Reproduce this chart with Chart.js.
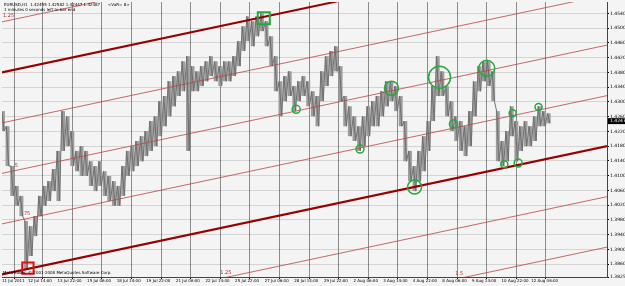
<!DOCTYPE html>
<html>
<head>
<meta charset="utf-8">
<script src="https://cdn.jsdelivr.net/npm/chart.js@4/dist/chart.umd.min.js"></script>
<style>
  html, body { margin: 0; padding: 0; background: #f4f4f4; }
  canvas { display: block; }
</style>
</head>
<body>
<canvas id="chart" width="625" height="286"></canvas>
<script>
// EURUSD H1, x = bar number (1 bar = 1 hour)
const timeTicks = [4, 32, 64, 96, 128, 160, 192, 224, 256, 288, 320, 352, 384, 416, 448, 480, 512, 544, 576];
const timeLabels = ['11 Jul 2011', '12 Jul 14:00', '13 Jul 22:00', '15 Jul 06:00', '18 Jul 14:00', '19 Jul 22:00',
  '21 Jul 06:00', '22 Jul 14:00', '25 Jul 22:00', '27 Jul 06:00', '28 Jul 14:00', '29 Jul 22:00', '2 Aug 06:00',
  '3 Aug 14:00', '4 Aug 22:00', '8 Aug 06:00', '9 Aug 14:00', '10 Aug 22:00', '12 Aug 06:00'];
const priceTicks = [1.3825, 1.386, 1.390, 1.394, 1.398, 1.402, 1.406, 1.410, 1.414, 1.418, 1.422, 1.426,
  1.430, 1.434, 1.438, 1.442, 1.446, 1.450, 1.454];

const barIndex = [5, 10, 15, 20, 25, 30, 35, 40, 45, 50, 55, 60, 65, 70, 75, 80, 85, 90, 95, 100,
  105, 110, 115, 120, 125, 130, 135, 140, 145, 150, 155, 160, 165, 170, 175, 180, 185, 190, 195, 200,
  205, 210, 215, 220, 225, 230, 235, 240, 245, 250, 255, 260, 265, 270, 275, 280, 285, 290, 295, 300,
  305, 310, 315, 320, 325, 330, 335, 340, 345, 350, 355, 360, 365, 370, 375, 380, 385, 390, 395, 400,
  405, 410, 415, 420, 425, 430, 435, 440, 445, 450, 455, 460, 465, 470, 475, 480, 485, 490, 495, 500,
  505, 510, 515, 520, 525, 530, 535, 540, 545, 550, 555, 560, 565, 570, 575, 580, 585, 590, 595];
const highs = [1.4275, 1.4234, 1.4126, 1.4072, 1.4045, 1.3977, 1.3963, 1.3990, 1.4045, 1.4072,
  1.4085, 1.4118, 1.4167, 1.4275, 1.4261, 1.4221, 1.4167, 1.4180, 1.4167, 1.4139,
  1.4126, 1.4139, 1.4112, 1.4099, 1.4085, 1.4072, 1.4126, 1.4167, 1.4180, 1.4194,
  1.4207, 1.4221, 1.4248, 1.4261, 1.4302, 1.4316, 1.4356, 1.4370, 1.4383, 1.4410,
  1.4424, 1.4397, 1.4383, 1.4397, 1.4410, 1.4424, 1.4410, 1.4397, 1.4410, 1.4410,
  1.4424, 1.4465, 1.4505, 1.4532, 1.4519, 1.4532, 1.4540, 1.4519, 1.4478, 1.4424,
  1.4356, 1.4370, 1.4383, 1.4343, 1.4356, 1.4370, 1.4356, 1.4329, 1.4316, 1.4383,
  1.4424, 1.4438, 1.4451, 1.4397, 1.4316, 1.4288, 1.4261, 1.4234, 1.4261, 1.4288,
  1.4302, 1.4316, 1.4329, 1.4356, 1.4356, 1.4343, 1.4316, 1.4248, 1.4167, 1.4126,
  1.4167, 1.4207, 1.4248, 1.4343, 1.4424, 1.4383, 1.4343, 1.4302, 1.4261, 1.4248,
  1.4234, 1.4275, 1.4356, 1.4397, 1.4410, 1.4410, 1.4383, 1.4275, 1.4194, 1.4221,
  1.4288, 1.4248, 1.4234, 1.4248, 1.4234, 1.4261, 1.4288, 1.4275, 1.4269];
const lows = [1.4221, 1.4126, 1.4045, 1.4018, 1.3990, 1.3847, 1.3882, 1.3936, 1.3990, 1.4018,
  1.4031, 1.4058, 1.4031, 1.4167, 1.4180, 1.4126, 1.4112, 1.4099, 1.4099, 1.4072,
  1.4058, 1.4072, 1.4045, 1.4031, 1.4018, 1.4018, 1.4045, 1.4099, 1.4112, 1.4126,
  1.4139, 1.4153, 1.4167, 1.4180, 1.4207, 1.4234, 1.4261, 1.4288, 1.4316, 1.4329,
  1.4167, 1.4329, 1.4329, 1.4343, 1.4356, 1.4370, 1.4356, 1.4343, 1.4356, 1.4356,
  1.4370, 1.4397, 1.4438, 1.4465, 1.4451, 1.4478, 1.4492, 1.4451, 1.4397, 1.4329,
  1.4261, 1.4302, 1.4316, 1.4275, 1.4302, 1.4316, 1.4288, 1.4261, 1.4234, 1.4302,
  1.4343, 1.4370, 1.4383, 1.4302, 1.4234, 1.4207, 1.4194, 1.4167, 1.4180, 1.4207,
  1.4234, 1.4234, 1.4261, 1.4288, 1.4302, 1.4275, 1.4234, 1.4139, 1.4085, 1.4058,
  1.4085, 1.4112, 1.4167, 1.4248, 1.4316, 1.4316, 1.4261, 1.4221, 1.4194, 1.4167,
  1.4153, 1.4180, 1.4261, 1.4329, 1.4356, 1.4343, 1.4302, 1.4139, 1.4126, 1.4139,
  1.4207, 1.4139, 1.4167, 1.4180, 1.4180, 1.4194, 1.4234, 1.4234, 1.4242];
const lastPrice = 1.42479;

// channel: level 1 line runs through these two points, level 0 lies channelWidth above
const channelBase = [{ x: 32, y: 1.3847 }, { x: 658, y: 1.4180 }];
const channelWidth = 0.0548;
const channelLevels = [-0.25, 0, 0.25, 0.5, 0.75, 1, 1.25, 1.5];
const levelNames = ['1.25', '', '', '.5', '.75', '', '1.25', '1.5'];
const levelNameAt = [5, null, null, 16, 26, null, 240, 494];

// marked touches
const touchX = [322, 391, 425, 450, 477, 492, 528, 547, 556, 562, 584];
const touchY = [1.4280, 1.4172, 1.4337, 1.4069, 1.4367, 1.4240, 1.4391, 1.4131, 1.4269, 1.4134, 1.4286];
const topMark = { x: 287, y: 1.4527 };
const lowMark = { x: 32, y: 1.3849 };

const slope = (channelBase[1].y - channelBase[0].y) / (channelBase[1].x - channelBase[0].x);
function levelPrice(level, x) {
  return channelBase[0].y + (x - channelBase[0].x) * slope + (1 - level) * channelWidth;
}

const levelSets = channelLevels.map((lv) => {
  const thick = lv === 0 || lv === 1;
  return {
    type: 'line',
    data: [{ x: -20, y: levelPrice(lv, -20) }, { x: 700, y: levelPrice(lv, 700) }],
    borderColor: thick ? '#960000' : 'rgba(180,70,70,0.8)',
    borderWidth: thick ? 2 : 1,
    pointRadius: 0,
    order: 5,
  };
});

// high -> low scribble inside every bar group
const scribble = [];
barIndex.forEach((x, i) => {
  scribble.push({ x: x - 1.3, y: highs[i] });
  scribble.push({ x: x + 1.3, y: lows[i] });
});

const fontFam = '"DejaVu Sans", Arial, sans-serif';

const overlay = {
  id: 'overlay',
  afterDraw(chart) {
    const ctx = chart.ctx;
    const xs = chart.scales.x, ys = chart.scales.y;
    ctx.save();
    // level names
    ctx.font = '5px ' + fontFam;
    ctx.fillStyle = '#b03030';
    ctx.textBaseline = 'bottom';
    channelLevels.forEach((lv, i) => {
      if (!levelNames[i]) return;
      const x = levelNameAt[i];
      ctx.fillText(levelNames[i], xs.getPixelForValue(x), ys.getPixelForValue(levelPrice(lv, x)) - 3);
    });
    // header texts
    ctx.fillStyle = '#000';
    ctx.textBaseline = 'middle';
    ctx.font = '4px ' + fontFam;
    ctx.fillText('EURUSD,H1  1.42495 1.42582 1.42447 1.42487', 4, 5);
    ctx.fillText('<VaR= 8>', 108, 5);
    ctx.fillText('1 minutes 0 seconds left to bar end', 4, 9.5);
    ctx.fillText('MetaTrader, \u00a9 2001-2008 MetaQuotes Software Corp.', 3, 273);
    // last price tag
    const py = ys.getPixelForValue(lastPrice);
    ctx.font = '4.5px ' + fontFam;
    ctx.fillStyle = '#000';
    ctx.fillRect(xs.right + 1, py - 3, 20, 6);
    ctx.fillStyle = '#fff';
    ctx.fillText(lastPrice.toFixed(5), xs.right + 3, py);
    ctx.restore();
  },
};

new Chart(document.getElementById('chart'), {
  type: 'bar',
  data: {
    datasets: [
      {
        type: 'bar',
        data: barIndex.map((x, i) => ({ x, y: [lows[i], highs[i]] })),
        backgroundColor: '#9c9c9c',
        borderWidth: 0,
        barPercentage: 0.85,
        categoryPercentage: 1,
        order: 10,
      },
      {
        type: 'line',
        data: scribble,
        borderColor: '#6f6f6f',
        borderWidth: 1,
        pointRadius: 0,
        order: 9,
      },
      ...levelSets,
      {
        type: 'scatter',
        data: touchX.map((x, i) => ({ x, y: touchY[i] })),
        pointStyle: 'circle',
        pointRadius: [4, 4, 7, 7, 11, 4, 8, 3.5, 3.5, 4, 3.5],
        backgroundColor: 'rgba(0,0,0,0)',
        borderColor: '#22aa3c',
        pointBorderWidth: 1.5,
        order: 1,
      },
      {
        type: 'scatter',
        data: [topMark],
        pointStyle: 'rect',
        pointRadius: 8.5,
        backgroundColor: 'rgba(0,0,0,0)',
        borderColor: '#22aa3c',
        pointBorderWidth: 2,
        order: 1,
      },
      {
        type: 'scatter',
        data: [lowMark],
        pointStyle: 'rect',
        pointRadius: 8,
        backgroundColor: 'rgba(0,0,0,0)',
        borderColor: '#e01010',
        pointBorderWidth: 2,
        order: 1,
      },
    ],
  },
  options: {
    responsive: false,
    animation: false,
    layout: { autoPadding: false, padding: { left: 2, top: 2, right: 0, bottom: 0 } },
    plugins: { legend: { display: false }, tooltip: { enabled: false } },
    scales: {
      x: {
        type: 'linear',
        offset: false,
        min: 4,
        max: 658,
        afterBuildTicks: (s) => { s.ticks = timeTicks.map((v) => ({ value: v })); },
        afterFit: (s) => { s.height = 9; s.paddingLeft = 0; s.paddingRight = 0; },
        ticks: {
          autoSkip: false,
          maxRotation: 0,
          align: 'start',
          padding: 0,
          font: { size: 4, family: fontFam },
          color: '#000',
          callback: (v, i) => timeLabels[i],
        },
        grid: { color: '#8c8c8c', borderDash: [2, 2], tickLength: 2, tickColor: '#000' },
        border: { display: true, color: '#444', width: 1 },
      },
      y: {
        position: 'right',
        min: 1.3825,
        max: 1.4571,
        afterBuildTicks: (s) => { s.ticks = priceTicks.map((v) => ({ value: v })); },
        afterFit: (s) => { s.width = 18; s.paddingTop = 0; s.paddingBottom = 0; },
        ticks: {
          autoSkip: false,
          padding: 1,
          font: { size: 4.5, family: fontFam },
          color: '#000',
          callback: (v) => Number(v).toFixed(5),
        },
        grid: { color: 'rgba(0,0,0,0.13)', borderDash: [1, 2], tickLength: 2, tickColor: '#000' },
        border: { display: true, color: '#444', width: 1 },
      },
    },
  },
  plugins: [overlay],
});
</script>
</body>
</html>
